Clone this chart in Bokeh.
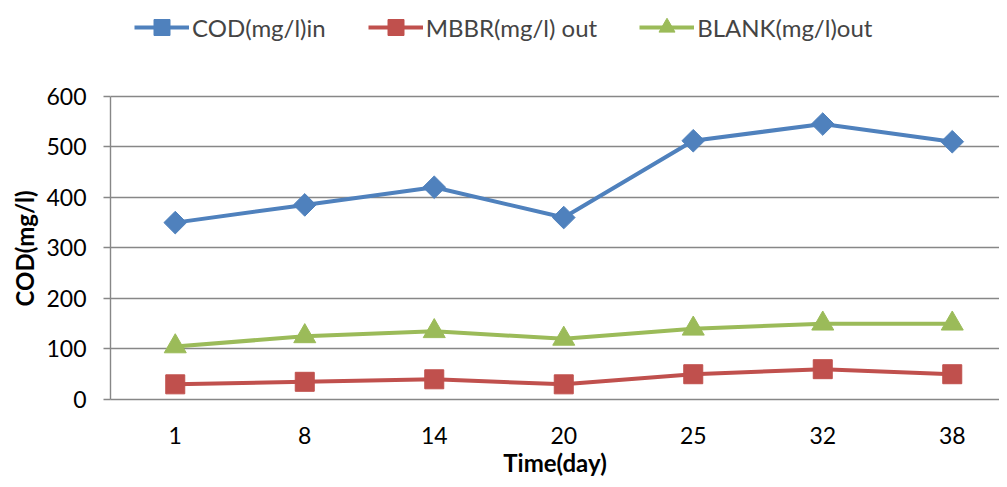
import math
from bokeh.plotting import figure
from bokeh.models import Legend, LegendItem, FixedTicker, Range1d, Title
from bokeh.embed import file_html
from bokeh.resources import INLINE

days = ["1", "8", "14", "20", "25", "32", "38"]
cod_in = [350, 385, 420, 360, 512, 545, 510]
mbbr_out = [30, 35, 40, 30, 50, 60, 50]
blank_out = [105, 125, 135, 120, 140, 150, 150]
y_ticks = [0, 100, 200, 300, 400, 500, 600]

xs = list(range(1, len(days) + 1))
FONT = "Lato"
GRID = "#878787"

W, H = 999, 479
LEFT, BOTTOM = 110, 79
frame_h = H - BOTTOM            # frame spans from canvas top to axis
px_per_unit = 304 / 600.0       # 600 sits 96px below the canvas top
y_top = frame_h / px_per_unit
x_end = 0.5 + (W - LEFT) / 129.5

p = figure(width=W, height=H, output_backend="svg", toolbar_location=None,
           x_range=Range1d(0.5, x_end), y_range=Range1d(0, y_top),
           min_border_left=LEFT, min_border_right=0, min_border_top=0,
           min_border_bottom=BOTTOM)
p.outline_line_color = None
p.xgrid.grid_line_color = None
p.ygrid.grid_line_color = GRID
p.ygrid.grid_line_width = 1.4
p.yaxis.ticker = FixedTicker(ticks=y_ticks)
p.yaxis.bounds = (0, 600)
p.xaxis.ticker = FixedTicker(ticks=xs)
p.xaxis.major_label_overrides = {i: d for i, d in zip(xs, days)}

for ax in (p.xaxis, p.yaxis):
    ax.axis_line_color = GRID
    ax.axis_line_width = 1.4
    ax.minor_tick_line_color = None
    ax.major_label_text_font = FONT
    ax.major_label_text_font_size = "23px"
    ax.major_label_text_color = "#000000"
    ax.axis_label_text_font = FONT
    ax.axis_label_text_font_size = "24px"
    ax.axis_label_text_font_style = "bold"
    ax.axis_label_text_color = "#000000"

p.xaxis.major_tick_line_color = None
p.xaxis.major_tick_out = 0
p.xaxis.major_tick_in = 0
p.xaxis.major_label_standoff = 27
p.xaxis.axis_label = "Time(day)"
p.xaxis.axis_label_standoff = 1

p.yaxis.major_tick_line_color = GRID
p.yaxis.major_tick_line_width = 1.4
p.yaxis.major_tick_out = 7
p.yaxis.major_tick_in = 0
p.yaxis.major_label_standoff = 17

ytitle = Title(text="COD(mg/l)", align="left", offset=93,
               text_font=FONT, text_font_size="24px", text_font_style="bold",
               text_color="#000000", standoff=9)
p.add_layout(ytitle, "left")

series = [
    ("COD(mg/l)in", cod_in, "#4F81BD", "square", 16, math.pi / 4),
    ("MBBR(mg/l) out", mbbr_out, "#C0504D", "square", 19, 0),
    ("BLANK(mg/l)out", blank_out, "#9BBB59", "triangle", 22, 0),
]
items = []
for label, vals, color, marker, size, ang in series:
    l = p.line(xs, vals, line_color=color, line_width=4)
    s = p.scatter(xs, vals, marker=marker, size=size, angle=ang,
                  fill_color=color, line_color=color)
    items.append(LegendItem(label=label, renderers=[l, s]))

legend = Legend(items=items, orientation="horizontal", location=(24, frame_h - 48),
                label_text_font=FONT, label_text_font_size="24px",
                glyph_width=55, glyph_height=40, label_standoff=3, spacing=42,
                padding=0, margin=0, border_line_alpha=0, background_fill_alpha=0)
p.add_layout(legend, "center")

open("out.html", "w").write(file_html(p, INLINE))
